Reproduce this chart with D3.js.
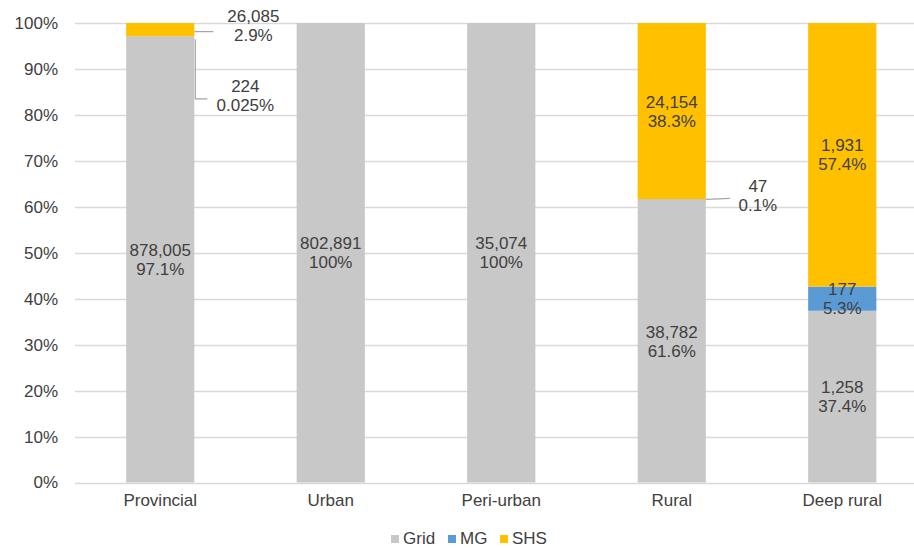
<!DOCTYPE html>
<html>
<head>
<meta charset="utf-8">
<script src="https://cdn.jsdelivr.net/npm/d3@7"></script>
<style>
  body { margin: 0; background: #fff; }
  text { font-family: "Liberation Sans", Arial, sans-serif; fill: #404040; }
</style>
</head>
<body>
<div id="chart"></div>
<script>
// categories and series
var categories = ["Provincial", "Urban", "Peri-urban", "Rural", "Deep rural"];
var seriesNames = ["Grid", "MG", "SHS"];
var gridCounts = [878005, 802891, 35074, 38782, 1258];
var mgCounts = [224, 0, 0, 47, 177];
var shsCounts = [26085, 0, 0, 24154, 1931];
var gridPct = ["97.1%", "100%", "100%", "61.6%", "37.4%"];
var mgPct = ["0.025%", "", "", "0.1%", "5.3%"];
var shsPct = ["2.9%", "", "", "38.3%", "57.4%"];
var yTicks = [0, 0.1, 0.2, 0.3, 0.4, 0.5, 0.6, 0.7, 0.8, 0.9, 1];

var colors = {Grid: "#c8c8c8", MG: "#5b9bd5", SHS: "#ffc000"};
var fontSize = "17px";

var width = 914, height = 548;
var margin = {top: 23, left: 75, bottom: 66};

var rows = categories.map(function (c, i) {
  return {cat: c, Grid: gridCounts[i], MG: mgCounts[i], SHS: shsCounts[i],
          labels: {Grid: gridPct[i], MG: mgPct[i], SHS: shsPct[i]}};
});

var stack = d3.stack().keys(seriesNames).offset(d3.stackOffsetExpand);
var layers = stack(rows);

var x = d3.scaleBand()
    .domain(categories)
    .range([margin.left, margin.left + 170.5 * 5])
    .paddingInner(0.6)
    .paddingOuter(0.3);

var y = d3.scaleLinear()
    .domain([0, 1])
    .range([height - margin.bottom + 0.5, margin.top]);

var svg = d3.select("#chart").append("svg")
    .attr("width", width)
    .attr("height", height);

// gridlines
svg.append("g")
  .selectAll("line")
  .data(yTicks)
  .enter().append("line")
    .attr("x1", margin.left)
    .attr("x2", width)
    .attr("y1", function (d) { return Math.round(y(d)) + 0.5; })
    .attr("y2", function (d) { return Math.round(y(d)) + 0.5; })
    .attr("stroke", "#d9d9d9")
    .attr("stroke-width", 1.5);

// y axis labels
var yAxis = svg.append("g")
    .attr("transform", "translate(" + (margin.left - 17) + ",0)")
    .call(d3.axisLeft(y).tickValues(yTicks).tickFormat(d3.format(".0%")).tickSize(0).tickPadding(0));
yAxis.select(".domain").remove();
yAxis.selectAll("text")
    .style("font-size", fontSize)
    .style("font-family", "Liberation Sans, Arial, sans-serif")
    .attr("fill", "#404040");

// bars
var layer = svg.selectAll(".layer")
  .data(layers)
  .enter().append("g")
    .attr("class", "layer")
    .attr("fill", function (d) { return colors[d.key]; });

layer.selectAll("rect")
  .data(function (d) { return d; })
  .enter().append("rect")
    .attr("x", function (d) { return x(d.data.cat); })
    .attr("width", x.bandwidth())
    .attr("y", function (d) { return y(d[1]); })
    .attr("height", function (d) { return y(d[0]) - y(d[1]); });

// x axis labels
var xAxis = svg.append("g")
    .attr("transform", "translate(0," + (height - margin.bottom + 12) + ")")
    .call(d3.axisBottom(x).tickSize(0).tickPadding(0));
xAxis.select(".domain").remove();
xAxis.selectAll("text")
    .style("font-size", fontSize)
    .style("font-family", "Liberation Sans, Arial, sans-serif")
    .attr("fill", "#404040");

// two-line label helper
function twoLine(cx, cy, top, bottom) {
  var t = svg.append("text")
      .attr("text-anchor", "middle")
      .style("font-size", fontSize);
  t.append("tspan").attr("x", cx).attr("y", cy - 3.5).text(top);
  t.append("tspan").attr("x", cx).attr("y", cy + 15.5).text(bottom);
}

// labels inside segments (large enough)
layers.forEach(function (l) {
  l.forEach(function (d, i) {
    var share = d[1] - d[0];
    if (share < 0.04) return;
    var cx = x(d.data.cat) + x.bandwidth() / 2;
    var cy = (y(d[0]) + y(d[1])) / 2;
    twoLine(cx, cy, d3.format(",")(d.data[l.key]), d.data.labels[l.key]);
  });
});

// callout labels for thin segments
var leader = svg.append("g")
    .attr("fill", "none")
    .attr("stroke", "#a6a6a6")
    .attr("stroke-width", 1.2);

var provRight = x("Provincial") + x.bandwidth();
var provShs = layers[2][0], provMg = layers[1][0];
var yShs = y((provShs[0] + provShs[1]) / 2) + 2;
leader.append("path").attr("d", "M" + provRight + "," + yShs + "H" + (provRight + 19));
twoLine(provRight + 59, 25, d3.format(",")(shsCounts[0]), shsPct[0]);

var yMg = y((provMg[0] + provMg[1]) / 2) + 3;
leader.append("path").attr("d", "M" + (provRight + 1) + "," + yMg + "V" + (y(0.835)) + "H" + (provRight + 13));
twoLine(provRight + 51, y(0.835) - 3, d3.format(",")(mgCounts[0]), mgPct[0]);

var ruralRight = x("Rural") + x.bandwidth();
var ruralMg = layers[1][3];
var yRm = y((ruralMg[0] + ruralMg[1]) / 2);
leader.append("path").attr("d", "M" + ruralRight + "," + yRm + "L" + (ruralRight + 24) + "," + (yRm - 1));
twoLine(ruralRight + 52, yRm - 4, d3.format(",")(mgCounts[3]), mgPct[3]);

// legend
var legendX = [391, 448, 500];
var legend = svg.selectAll(".legend")
  .data(seriesNames)
  .enter().append("g")
    .attr("class", "legend")
    .attr("transform", function (d, i) { return "translate(" + legendX[i] + ",535)"; });
legend.append("rect")
    .attr("width", 8)
    .attr("height", 8)
    .attr("fill", function (d) { return colors[d]; });
legend.append("text")
    .attr("x", 12)
    .attr("y", 8.5)
    .style("font-size", fontSize)
    .text(function (d) { return d; });
</script>
</body>
</html>
